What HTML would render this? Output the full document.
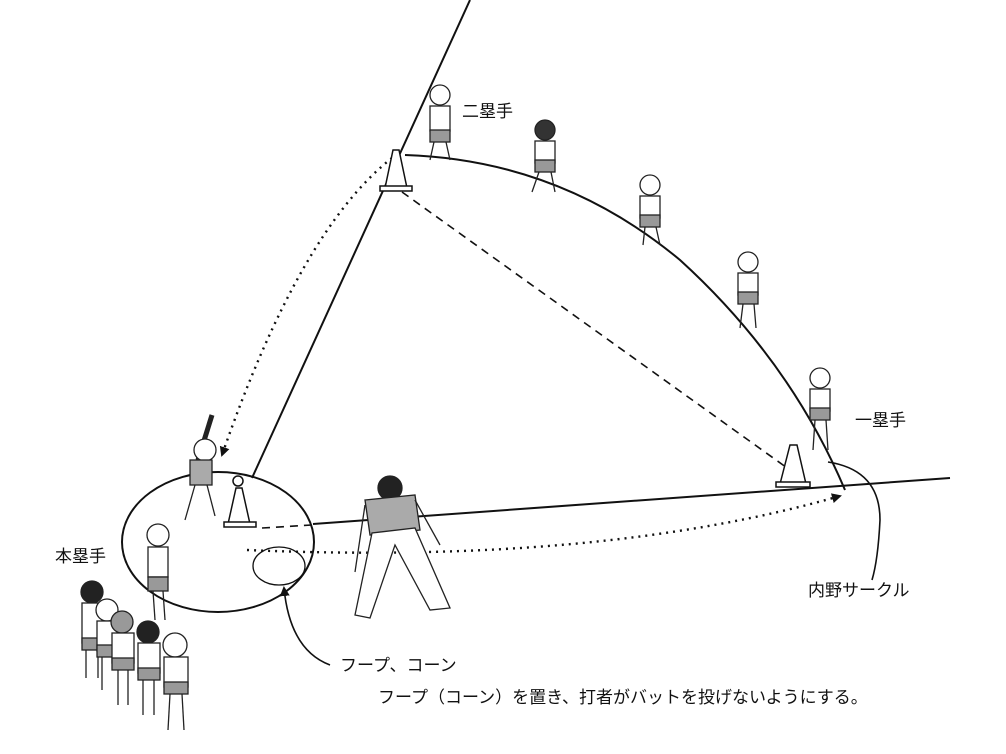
<!DOCTYPE html>
<html><head><meta charset="utf-8"><style>
html,body{margin:0;padding:0;background:#fff;}
svg{display:block;}
text{font-family:"Liberation Sans","Noto Sans CJK JP",sans-serif;fill:#111;}
</style></head><body>
<svg width="1006" height="754" viewBox="0 0 1006 754" xmlns="http://www.w3.org/2000/svg">
<defs>
<marker id="ah" markerWidth="10" markerHeight="10" refX="8" refY="5" orient="auto" markerUnits="userSpaceOnUse"><path d="M0,0 L10,5 L0,10 z" fill="#111"/></marker>
</defs>
<g fill="none" stroke="#111" stroke-width="2">
<line x1="470" y1="0" x2="252" y2="478"/>
<line x1="313" y1="524" x2="950" y2="478"/>
<path d="M405,155 Q560,160 680,260 Q790,360 845,490"/>
<ellipse cx="218" cy="542" rx="96" ry="70"/>
<ellipse cx="279" cy="566" rx="26" ry="19" stroke-width="1.3"/>
<path d="M330,665 Q290,650 284,588" stroke-width="1.6" marker-end="url(#ah)"/>
<path d="M828,462 Q880,470 880,520 Q878,560 872,580" stroke-width="1.6"/>
</g>
<g fill="none" stroke="#111" stroke-width="1.6" stroke-dasharray="8,6">
<line x1="402" y1="192" x2="790" y2="470"/>
<line x1="262" y1="528" x2="312" y2="525"/>
</g>
<g fill="none" stroke="#111" stroke-width="2.4" stroke-dasharray="2,5">
<path d="M392,158 Q300,230 222,455" marker-end="url(#ah)"/>
<path d="M247,550 Q600,565 840,496" marker-end="url(#ah)"/>
</g>
<!-- cones -->
<g fill="#fff" stroke="#111" stroke-width="1.5">
<path d="M385,188 L393,150 L399,150 L407,188 z"/><rect x="380" y="186" width="32" height="5"/>
<path d="M780,484 L790,445 L797,445 L806,484 z"/><rect x="776" y="482" width="34" height="5"/>
<path d="M228,524 L236,488 L242,488 L250,524 z"/><rect x="224" y="522" width="32" height="5"/>
<circle cx="238" cy="481" r="5"/>
</g>
<!-- people (simplified) -->
<g stroke="#222" stroke-width="1.3" fill="#fff">
<g><circle cx="440" cy="95" r="10"/><rect x="430" y="106" width="20" height="25"/><rect x="430" y="130" width="20" height="12" fill="#999"/><line x1="434" y1="142" x2="430" y2="160"/><line x1="446" y1="142" x2="450" y2="160"/></g>
<g><circle cx="545" cy="130" r="10" fill="#333"/><rect x="535" y="141" width="20" height="22"/><rect x="535" y="160" width="20" height="12" fill="#999"/><line x1="539" y1="172" x2="532" y2="192"/><line x1="551" y1="172" x2="555" y2="192"/></g>
<g><circle cx="650" cy="185" r="10"/><rect x="640" y="196" width="20" height="22"/><rect x="640" y="215" width="20" height="12" fill="#999"/><line x1="645" y1="227" x2="643" y2="245"/><line x1="656" y1="227" x2="660" y2="245"/></g>
<g><circle cx="748" cy="262" r="10"/><rect x="738" y="273" width="20" height="22"/><rect x="738" y="292" width="20" height="12" fill="#999"/><line x1="743" y1="304" x2="740" y2="328"/><line x1="754" y1="304" x2="756" y2="328"/></g>
<g><circle cx="820" cy="378" r="10"/><rect x="810" y="389" width="20" height="22"/><rect x="810" y="408" width="20" height="12" fill="#999"/><line x1="815" y1="420" x2="813" y2="450"/><line x1="826" y1="420" x2="828" y2="450"/></g>
<g><line x1="198" y1="460" x2="212" y2="415" stroke-width="5"/><circle cx="205" cy="450" r="11"/><rect x="190" y="460" width="22" height="25" fill="#aaa"/><line x1="195" y1="485" x2="185" y2="520"/><line x1="207" y1="485" x2="215" y2="516"/></g>
<g><circle cx="158" cy="535" r="11"/><rect x="148" y="547" width="20" height="30"/><rect x="148" y="577" width="20" height="14" fill="#999"/><line x1="153" y1="591" x2="155" y2="620"/><line x1="163" y1="591" x2="165" y2="620"/></g>
<g><circle cx="390" cy="488" r="12" fill="#222"/><path d="M365,500 L415,495 L420,530 L370,535 z" fill="#aaa"/><path d="M372,533 L355,615 L370,618 L395,545 L430,610 L450,608 L415,528 z"/><line x1="365" y1="505" x2="355" y2="572"/><line x1="415" y1="500" x2="440" y2="545"/></g>
<g><circle cx="92" cy="592" r="11" fill="#222"/><rect x="82" y="603" width="20" height="40"/><rect x="82" y="638" width="20" height="12" fill="#999"/><line x1="86" y1="650" x2="86" y2="678"/><line x1="98" y1="650" x2="98" y2="678"/></g>
<g><circle cx="107" cy="610" r="11"/><rect x="97" y="621" width="20" height="30"/><rect x="97" y="645" width="20" height="12" fill="#999"/><line x1="102" y1="657" x2="102" y2="690"/></g>
<g><circle cx="122" cy="622" r="11" fill="#999"/><rect x="112" y="633" width="22" height="30"/><rect x="112" y="658" width="22" height="12" fill="#999"/><line x1="118" y1="670" x2="118" y2="705"/><line x1="128" y1="670" x2="128" y2="705"/></g>
<g><circle cx="148" cy="632" r="11" fill="#222"/><rect x="138" y="643" width="22" height="30"/><rect x="138" y="668" width="22" height="12" fill="#999"/><line x1="143" y1="680" x2="143" y2="715"/><line x1="154" y1="680" x2="154" y2="715"/></g>
<g><circle cx="175" cy="645" r="12"/><rect x="164" y="657" width="24" height="30"/><rect x="164" y="682" width="24" height="12" fill="#999"/><line x1="170" y1="694" x2="168" y2="730"/><line x1="182" y1="694" x2="184" y2="730"/></g>
</g>
<text x="462" y="117" font-size="17">二塁手</text>
<text x="855" y="426" font-size="17">一塁手</text>
<text x="55" y="562" font-size="17">本塁手</text>
<text x="808" y="596" font-size="17">内野サークル</text>
<text x="340" y="671" font-size="17">フープ、コーン</text>
<text x="378" y="703" font-size="17">フープ（コーン）を置き、打者がバットを投げないようにする。</text>
</svg>
</body></html>
